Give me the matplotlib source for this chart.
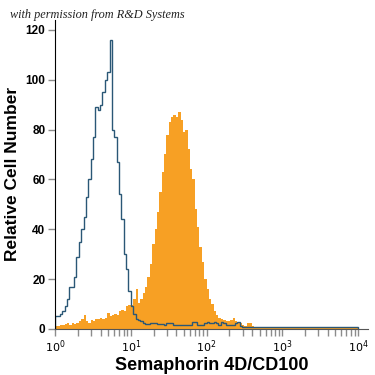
import numpy as np
import matplotlib
matplotlib.use("Agg")
import matplotlib.pyplot as plt
from matplotlib.ticker import LogLocator, NullFormatter

# channel counts, 32 channels per decade from 10^0 to 10^4
isotype_counts = [
    5, 5, 6, 7, 9, 12, 17, 17, 21, 29,
    35, 40, 45, 53, 60, 68, 77, 89, 88, 90,
    95, 100, 103, 116, 80, 77, 67, 54, 44, 30,
    24, 15, 9, 6, 4, 3.5, 3, 2.5, 2, 2,
    2.3, 2.3, 2.2, 2, 1.8, 1.8, 1.7, 2.5, 2.5, 2.4,
    1.6, 1.5, 1.6, 1.5, 1.6, 1.5, 1.6, 1.5, 2.6, 2.6,
    1.6, 1.5, 1.6, 2.5, 2.6, 2.5, 2.4, 2.6, 2.5, 1.6,
    2.6, 2.5, 1.5, 1.6, 1.5, 1.6, 2.5, 2.6, 1.2, 0.8,
    0.6, 0.6, 0.6, 0.6, 0.6, 0.6, 0.6, 0.6, 0.6, 0.6,
    0.6, 0.6, 0.6, 0.6, 0.6, 0.6, 0.6, 0.6, 0.6, 0.6,
    0.6, 0.6, 0.6, 0.6, 0.6, 0.6, 0.6, 0.6, 0.6, 0.6,
    0.6, 0.6, 0.6, 0.6, 0.6, 0.6, 0.6, 0.6, 0.6, 0.6,
    0.6, 0.6, 0.6, 0.6, 0.6, 0.6, 0.6, 0.6,
]
stained_counts = [
    1.2, 1.2, 1.5, 1.4, 2, 2.2, 1.6, 2.5, 2, 2.2,
    3, 4, 5.4, 3, 2.5, 3.5, 3, 3.8, 4, 4.5,
    3.8, 4.5, 6.4, 5, 5.5, 6, 5.5, 7, 7.6, 7,
    9, 9.5, 9.6, 12, 16, 10.5, 12, 14.4, 17, 21,
    26, 34, 40, 47, 55, 63, 70, 78, 83, 85,
    86, 85, 87, 84, 79, 80, 72, 64, 60, 48,
    41, 33, 27, 20, 16, 12, 10, 7, 5.5, 4.5,
    4, 3.5, 3, 3.2, 3.5, 4.4, 3, 2.5, 2.2, 1.5,
    1.2, 2.2, 2.4, 1.2, 0.8, 0.6, 0.6, 0.6, 0.6, 0.6,
    0.6, 0.6, 0.6, 0.6, 0.6, 0.6, 0.6, 0.6, 0.6, 0.6,
    0.6, 0.6, 0.6, 0.6, 0.6, 0.6, 0.6, 0.6, 0.6, 0.6,
    0.6, 0.6, 0.6, 0.6, 0.6, 0.6, 0.6, 0.6, 0.6, 0.6,
    0.6, 0.6, 0.6, 0.6, 0.6, 0.6, 0.6, 0.6,
]
y_ticks = [0, 20, 40, 60, 80, 100, 120]

edges = np.logspace(0, 4, len(stained_counts) + 1)

fig = plt.figure(figsize=(3.75, 3.75), dpi=100)
ax = fig.add_axes([0.147, 0.123, 0.834, 0.824])

ax.stairs(stained_counts, edges, fill=True, color="#f7a024", lw=0)
ax.stairs(isotype_counts, edges, color="#2a5776", lw=1.0)

ax.set_xscale("log")
ax.set_xlim(1, 10**4.13)
ax.set_ylim(0, 124)
ax.set_yticks(y_ticks)
ax.set_yticklabels([str(v) for v in y_ticks], fontweight="bold", fontsize=8.5,
                   family="Liberation Sans")
ax.xaxis.set_major_locator(LogLocator(base=10, numticks=10))
ax.xaxis.set_minor_locator(LogLocator(base=10, subs=np.arange(2, 10), numticks=20))
ax.xaxis.set_minor_formatter(NullFormatter())
ax.set_xticks([1, 10, 100, 1000, 10000])
ax.set_xticklabels([r"$10^0$", r"$10^1$", r"$10^2$", r"$10^3$", r"$10^4$"], fontsize=8)

ax.tick_params(axis="both", which="both", direction="out", color="#8c8c8c",
               width=1, length=5, pad=2)
ax.tick_params(axis="x", which="minor", length=5)

for side in ["top", "right"]:
    ax.spines[side].set_visible(False)
ax.spines["left"].set_color("black")
ax.spines["bottom"].set_color("#555555")

ax.set_xlabel("Semaphorin 4D/CD100", fontsize=13, fontweight="bold",
              family="Liberation Sans", labelpad=1)
ax.set_ylabel("Relative Cell Number", fontsize=12.5, fontweight="bold",
              family="Liberation Sans", labelpad=4)

fig.text(0.027, 0.953, "with permission from R&D Systems", fontsize=8.8,
         style="italic", family="Liberation Serif", color="#222222")

fig.savefig("out.png", dpi=100)
